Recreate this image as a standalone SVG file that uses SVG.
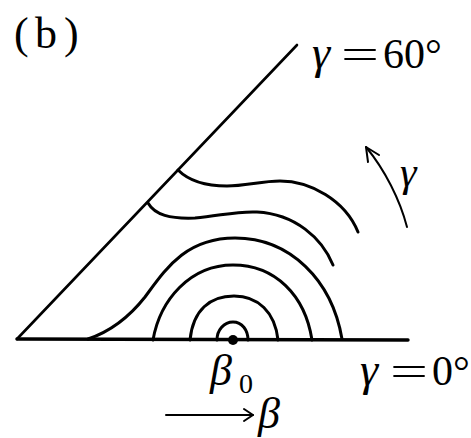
<svg xmlns="http://www.w3.org/2000/svg" width="471" height="438" viewBox="0 0 471 438">
<style>
.ln{fill:none;stroke:#000;stroke-linecap:round;stroke-linejoin:round}
.c{stroke-width:3}
.t{font-family:"Liberation Serif","Times New Roman",serif;fill:#000}
.i{font-style:italic}
</style>
<rect width="471" height="438" fill="#fff"/>
<g id="axes">
<path class="ln" d="M17,339 L297,45" stroke-width="2.6"/>
<path class="ln" d="M17,339 L408,340" stroke-width="3.4"/>
</g>
<g id="contours">
<path class="ln c" d="M178,170 C188,180 205,186 227,186 C245,186 262,181 280,181 C310,181 345,200 358,232"/>
<path class="ln c" d="M148,203 C155,215 170,219 195,218 C220,216 235,211 257,212 C295,214 322,238 333,265"/>
<path class="ln c" d="M88,339 C112,331 130,316 145,297 C165,270 185,238 235,238 C290,238 332,280 342,339"/>
<path class="ln c" d="M153,340 C160,300 190,265 233,265 C275,265 305,295 312,340"/>
<path class="ln c" d="M190,340 C193,310 210,296 234,296 C258,296 275,312 278,340"/>
<path class="ln c" d="M217,340 C217,330 224,322 233,322 C242,322 248,330 248,340"/>
<circle cx="233" cy="340" r="5" fill="#000"/>
</g>
<g id="connectors">
<path class="ln" stroke-width="2" d="M407,227 C400,200 385,170 366,147"/>
<path class="ln" stroke-width="2" d="M368,162 L366,147 L379,155"/>
<path class="ln" stroke-width="2" d="M166,415 L253,415"/>
<path class="ln" stroke-width="2" d="M244,409 L253,415 L244,421"/>
</g>
<g id="labels">
<text class="t" x="14" y="48" font-size="44">(</text>
<text class="t" x="35" y="48" font-size="44">b</text>
<text class="t" x="64" y="48" font-size="44">)</text>
<text class="t i" x="312" y="68" font-size="46">γ</text>
<text class="t" x="341" y="68" font-size="42" textLength="38" lengthAdjust="spacingAndGlyphs">=</text>
<text class="t" x="383" y="68" font-size="42">60°</text>
<text class="t i" x="360" y="385" font-size="46">γ</text>
<text class="t" x="390" y="385" font-size="42" textLength="38" lengthAdjust="spacingAndGlyphs">=</text>
<text class="t" x="432" y="385" font-size="42">0°</text>
<text class="t i" x="400" y="186" font-size="42">γ</text>
<text class="t i" x="210" y="385" font-size="44">β</text>
<text class="t" x="239" y="393" font-size="28">0</text>
<text class="t i" x="258" y="428" font-size="44">β</text>
</g>
</svg>
